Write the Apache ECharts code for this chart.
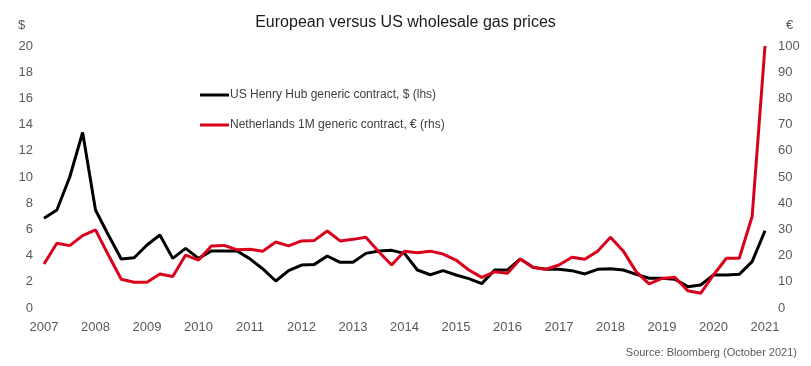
<!DOCTYPE html>
<html>
<head>
<meta charset="utf-8">
<script src="https://cdn.jsdelivr.net/npm/echarts@6/dist/echarts.min.js"></script>
<style>html,body{margin:0;padding:0;background:#fff}#c{width:811px;height:366px}</style>
</head>
<body>
<div id="c"></div>
<script>
var quarters = [
 '2007 Q1','2007 Q2','2007 Q3','2007 Q4','2008 Q1','2008 Q2','2008 Q3','2008 Q4',
 '2009 Q1','2009 Q2','2009 Q3','2009 Q4','2010 Q1','2010 Q2','2010 Q3','2010 Q4',
 '2011 Q1','2011 Q2','2011 Q3','2011 Q4','2012 Q1','2012 Q2','2012 Q3','2012 Q4',
 '2013 Q1','2013 Q2','2013 Q3','2013 Q4','2014 Q1','2014 Q2','2014 Q3','2014 Q4',
 '2015 Q1','2015 Q2','2015 Q3','2015 Q4','2016 Q1','2016 Q2','2016 Q3','2016 Q4',
 '2017 Q1','2017 Q2','2017 Q3','2017 Q4','2018 Q1','2018 Q2','2018 Q3','2018 Q4',
 '2019 Q1','2019 Q2','2019 Q3','2019 Q4','2020 Q1','2020 Q2','2020 Q3','2020 Q4',
 '2021 Q1'
];
var henryHubUSD = [
 6.85,7.48,10.0,13.4,7.48,5.57,3.74,3.84,
 4.81,5.57,3.79,4.55,3.79,4.35,4.35,4.35,
 3.75,2.98,2.06,2.85,3.28,3.33,3.97,3.49,
 3.49,4.17,4.35,4.4,4.17,2.9,2.54,2.85,
 2.52,2.24,1.86,2.9,2.9,3.74,3.1,2.95,
 2.95,2.85,2.6,2.95,3.0,2.9,2.57,2.27,
 2.27,2.2,1.63,1.76,2.52,2.52,2.57,3.54,
 5.9
];
var netherlandsEUR = [
 16.8,24.7,23.8,27.6,29.8,20.2,11.0,9.8,
 9.8,13.0,12.0,20.2,18.3,23.7,23.9,22.2,
 22.4,21.7,25.2,23.7,25.6,25.8,29.4,25.6,
 26.2,27.0,21.5,16.4,21.7,21.1,21.7,20.6,
 18.3,14.5,11.7,13.8,13.3,18.7,15.5,14.8,
 16.4,19.4,18.6,21.7,27.0,21.7,13.8,9.2,
 11.3,11.7,6.6,5.6,12.6,19.0,19.0,34.9,
 100
];
var seriesNames = ['US Henry Hub generic contract, $ (lhs)', 'Netherlands 1M generic contract, \u20ac (rhs)'];
var titleText = 'European versus US wholesale gas prices';
var sourceText = 'Source: Bloomberg (October 2021)';

var FONT = '"Liberation Sans", Arial, sans-serif';
var GREY = '#595959';
var chart = echarts.init(document.getElementById('c'), null, {renderer: 'canvas'});
chart.setOption({
  animation: false,
  backgroundColor: '#ffffff',
  title: {
    text: titleText, left: 'center', top: 10,
    textStyle: {fontFamily: FONT, fontSize: 16, fontWeight: 'normal', color: '#1a1a1a'}
  },
  legend: {
    orient: 'vertical', left: 195, top: 84, itemGap: 18,
    itemWidth: 29, itemHeight: 3, icon: 'rect',
    data: seriesNames,
    textStyle: {fontFamily: FONT, fontSize: 12, color: '#404040', padding: [0, 0, 0, -4]}
  },
  grid: {left: 44, right: 46, top: 46, bottom: 58, containLabel: false},
  xAxis: {
    type: 'category', data: quarters, boundaryGap: false,
    axisLine: {show: false}, axisTick: {show: false}, splitLine: {show: false},
    axisLabel: {
      interval: 3, margin: 13, color: GREY, fontFamily: FONT, fontSize: 13,
      formatter: function (v) { return v.slice(0, 4); }
    }
  },
  yAxis: [
    {
      type: 'value', min: 0, max: 20, interval: 2,
      axisLine: {show: false}, axisTick: {show: false}, splitLine: {show: false},
      axisLabel: {margin: 11, color: GREY, fontFamily: FONT, fontSize: 13}
    },
    {
      type: 'value', min: 0, max: 100, interval: 10, position: 'right',
      axisLine: {show: false}, axisTick: {show: false}, splitLine: {show: false},
      axisLabel: {margin: 13, color: GREY, fontFamily: FONT, fontSize: 13}
    }
  ],
  graphic: [
    {type: 'text', left: 18, top: 19, style: {text: '$', fill: GREY, font: '13px ' + FONT}},
    {type: 'text', left: 786, top: 19, style: {text: '\u20ac', fill: GREY, font: '13px ' + FONT}},
    {type: 'text', right: 14, top: 347, style: {text: sourceText, fill: GREY, font: '11px ' + FONT}}
  ],
  series: [
    {
      name: seriesNames[0], type: 'line', yAxisIndex: 0, data: henryHubUSD,
      symbol: 'none', lineStyle: {color: '#000000', width: 3}, itemStyle: {color: '#000000'}
    },
    {
      name: seriesNames[1], type: 'line', yAxisIndex: 1, data: netherlandsEUR,
      symbol: 'none', lineStyle: {color: '#d9001b', width: 3}, itemStyle: {color: '#d9001b'}
    }
  ]
});
</script>
</body>
</html>
